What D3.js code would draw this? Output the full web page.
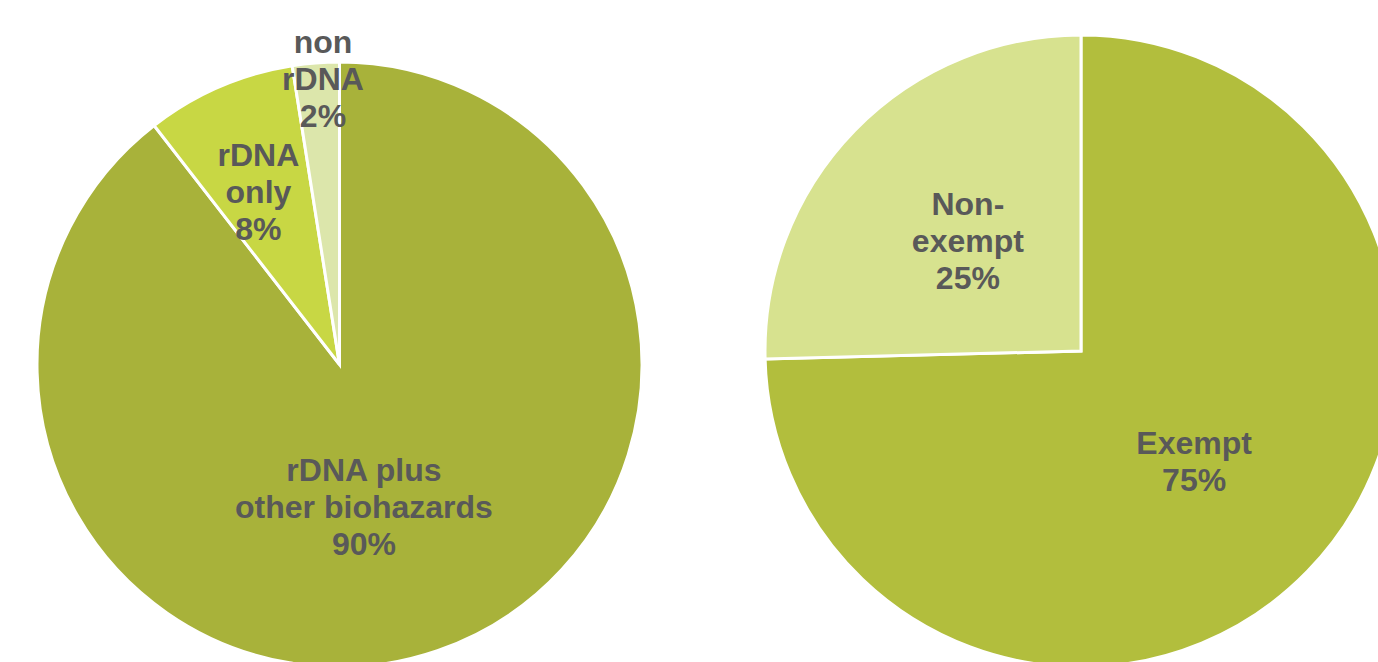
<!doctype html>
<html>
<head>
	<meta charset="utf-8">
	<title>rDNA registrations</title>
	<style>
		body { margin: 0; background: #fff; }
		svg { display: block; }
	</style>
</head>
<body>

<svg width="1378" height="662"></svg>
<script src="https://d3js.org/d3.v7.min.js"></script>
<script>
// left pie: share of registrations
var leftCategories = ["rDNA plus other biohazards", "rDNA only", "non rDNA"];
var leftValues = [89.5, 8.0, 2.5];
var leftLabels = [["rDNA plus", "other biohazards", "90%"], ["rDNA", "only", "8%"], ["non", "rDNA", "2%"]];
var leftColors = ["#a8b23a", "#c8d744", "#dce6ab"];

// right pie: exempt vs non-exempt
var rightCategories = ["Exempt", "Non-exempt"];
var rightValues = [74.6, 25.4];
var rightLabels = [["Exempt", "75%"], ["Non-", "exempt", "25%"]];
var rightColors = ["#b2be3d", "#d7e28f"];

var svg = d3.select("svg");

function drawPie(cfg) {
  var g = svg.append("g")
      .attr("transform", "translate(" + cfg.cx + "," + cfg.cy + ")");

  var pie = d3.pie().sort(null).value(function(d) { return d; });
  var arcs = pie(cfg.values);

  var arc = d3.arc().innerRadius(0).outerRadius(cfg.r);

  g.selectAll(".slice")
    .data(arcs)
    .enter()
    .append("path")
    .attr("d", arc)
    .attr("fill", function(d, i) { return cfg.colors[i]; })
    .attr("stroke", "#fff")
    .attr("stroke-width", 3)
    .attr("stroke-linejoin", "miter");

  var labels = g.selectAll(".lbl")
    .data(arcs)
    .enter()
    .append("text")
    .attr("text-anchor", "middle")
    .attr("font-family", "'Liberation Sans', Arial, sans-serif")
    .attr("font-weight", "bold")
    .attr("font-size", 32)
    .attr("fill", "#595959")
    .each(function(d, i) {
      var lr = cfg.labelR[i] * cfg.r;
      var c = d3.arc().innerRadius(lr).outerRadius(lr).centroid(d);
      var x = c[0] + cfg.nudge[i][0], y = c[1] + cfg.nudge[i][1];
      var lines = cfg.labels[i];
      var t = d3.select(this);
      lines.forEach(function(line, j) {
        t.append("tspan")
          .attr("x", x)
          .attr("y", y + (j - (lines.length - 1) / 2) * 37)
          .attr("dy", "0.36em")
          .text(line);
      });
    });
}

drawPie({
  cx: 339.5, cy: 364.5, r: 302.5,
  values: leftValues, colors: leftColors, labels: leftLabels,
  labelR: [0.474, 0.65, 0.95],
  nudge: [[-22, 6], [-3, 7], [6, 0]]
});

drawPie({
  cx: 1081, cy: 351, r: 316,
  values: rightValues, colors: rightColors, labels: rightLabels,
  labelR: [0.5, 0.5],
  nudge: [[0, 0], [0, 0]]
});
</script>
</body>
</html>
